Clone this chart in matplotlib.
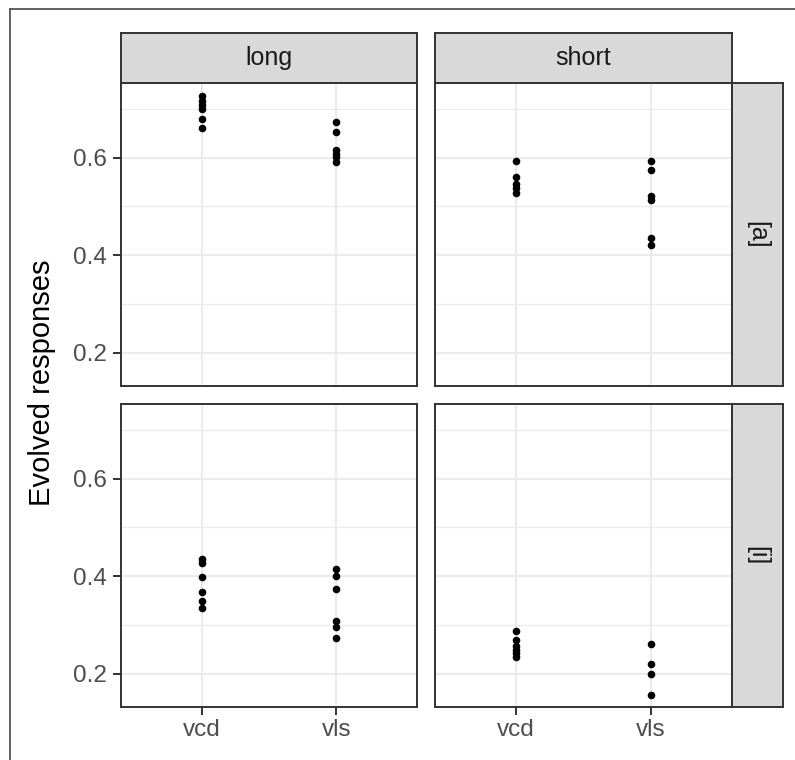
import matplotlib
matplotlib.use("Agg")
import matplotlib.pyplot as plt
from matplotlib.lines import Line2D

plt.rcParams["font.family"] = ["Liberation Sans", "DejaVu Sans"]

# facets and categories
cols = ["long", "short"]
rows = ["[a]", "[i]"]
groups = ["vcd", "vls"]

# evolved responses per facet
long_a_vcd = [0.726, 0.716, 0.708, 0.700, 0.680, 0.660]
long_a_vls = [0.674, 0.653, 0.615, 0.608, 0.601, 0.592]
short_a_vcd = [0.594, 0.560, 0.545, 0.538, 0.527]
short_a_vls = [0.594, 0.574, 0.522, 0.513, 0.436, 0.422]
long_i_vcd = [0.436, 0.428, 0.399, 0.367, 0.349, 0.335]
long_i_vls = [0.414, 0.400, 0.374, 0.309, 0.295, 0.274]
short_i_vcd = [0.288, 0.269, 0.256, 0.249, 0.242, 0.235]
short_i_vls = [0.261, 0.221, 0.200, 0.156]

data = {
    ("[a]", "long"): (long_a_vcd, long_a_vls),
    ("[a]", "short"): (short_a_vcd, short_a_vls),
    ("[i]", "long"): (long_i_vcd, long_i_vls),
    ("[i]", "short"): (short_i_vcd, short_i_vls),
}

W, H, DPI = 795, 760, 100
fig = plt.figure(figsize=(W / DPI, H / DPI), dpi=DPI)


def box(x0, y0, x1, y1):
    return [x0 / W, 1 - y1 / H, (x1 - x0) / W, (y1 - y0) / H]


col_x = [(121, 417), (435, 732)]
row_y = [(83, 386), (404, 707)]
strip_top = 33
strip_right = 783
dark = "#333333"
strip_fill = "#D9D9D9"

for ri, r in enumerate(rows):
    for ci, c in enumerate(cols):
        x0, x1 = col_x[ci]
        y0, y1 = row_y[ri]
        ax = fig.add_axes(box(x0, y0, x1, y1))
        vcd, vls = data[(r, c)]
        ax.scatter([1] * len(vcd), vcd, s=30, color="black", zorder=3, linewidths=0)
        ax.scatter([2] * len(vls), vls, s=30, color="black", zorder=3, linewidths=0)
        ax.set_xlim(0.4, 2.6)
        ax.set_ylim(0.132, 0.753)
        ax.set_xticks([1, 2])
        ax.set_yticks([0.2, 0.4, 0.6])
        ax.set_yticks([0.3, 0.5, 0.7], minor=True)
        ax.grid(True, which="major", color="#EBEBEB", lw=1.5, zorder=0)
        ax.grid(True, which="minor", axis="y", color="#EBEBEB", lw=0.8, zorder=0)
        ax.set_axisbelow(True)
        for sp in ax.spines.values():
            sp.set_color(dark)
            sp.set_linewidth(1.4)
        ax.tick_params(which="major", length=5.5, width=1.4, color=dark,
                       labelsize=17.5, labelcolor="#4D4D4D")
        ax.tick_params(axis="y", pad=4.5)
        ax.tick_params(axis="x", pad=3.5)
        ax.tick_params(which="minor", length=0)
        if ci == 0:
            ax.set_yticklabels(["0.2", "0.4", "0.6"])
        else:
            ax.tick_params(axis="y", which="major", length=0, labelleft=False)
        if ri == 1:
            ax.set_xticklabels(groups)
        else:
            ax.tick_params(axis="x", length=0, labelbottom=False)

        # column strips
        if ri == 0:
            sax = fig.add_axes(box(x0, strip_top, x1, y0))
            sax.set_facecolor(strip_fill)
            sax.set_xticks([]); sax.set_yticks([])
            for sp in sax.spines.values():
                sp.set_color(dark); sp.set_linewidth(1.4)
            sax.text(0.5, 0.5, c, ha="center", va="center", fontsize=18,
                     color="#1A1A1A", transform=sax.transAxes)
        # row strips
        if ci == 1:
            sax = fig.add_axes(box(x1, y0, strip_right, y1))
            sax.set_facecolor(strip_fill)
            sax.set_xticks([]); sax.set_yticks([])
            for sp in sax.spines.values():
                sp.set_color(dark); sp.set_linewidth(1.4)
            sax.text(0.5, 0.5, r, ha="center", va="center", fontsize=18,
                     rotation=-90, color="#1A1A1A", transform=sax.transAxes)

fig.text(42 / W, 1 - 383 / H, "Evolved responses",
         rotation=90, ha="center", va="center", fontsize=21, color="black")

# outer border (left and top edges only visible)
fig.add_artist(Line2D([10 / W, 10 / W], [0, 1 - 9 / H], transform=fig.transFigure,
                      color="#555555", lw=1.3))
fig.add_artist(Line2D([10 / W, 1], [1 - 9 / H, 1 - 9 / H], transform=fig.transFigure,
                      color="#555555", lw=1.3))

fig.savefig("out.png", dpi=DPI)
